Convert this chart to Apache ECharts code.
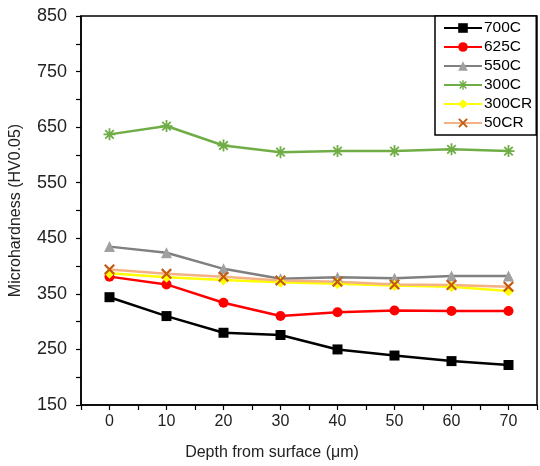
<!DOCTYPE html>
<html><head><meta charset="utf-8">
<script src="https://cdn.jsdelivr.net/npm/echarts@6/dist/echarts.min.js"></script>
<style>html,body{margin:0;padding:0;background:#fff}#c{width:540px;height:466px}</style>
</head><body><div id="c"></div>
<script>
const depths = [0, 10, 20, 30, 40, 50, 60, 70];
const s700C  = [344, 310, 280, 276, 250, 239, 229, 222];
const s625C  = [381, 367, 334, 310, 317, 320, 319, 319];
const s550C  = [435, 424, 395, 377, 380, 378, 382, 382];
const s300C  = [637, 652, 617, 605, 607, 607, 610, 607];
const s300CR = [387, 380, 375, 371, 368, 365, 363, 355];
const s50CR  = [394, 386, 381, 374, 372, 367, 366, 363];
const yTickLabels = [150, 250, 350, 450, 550, 650, 750, 850];

const asterisk = 'path://M-0.9,-6L0.9,-6L0.9,6L-0.9,6Z M-6,-0.9L6,-0.9L6,0.9L-6,0.9Z M-4.9,-3.6L-3.6,-4.9L4.9,3.6L3.6,4.9Z M3.6,-4.9L4.9,-3.6L-3.6,4.9L-4.9,3.6Z';
const cross = 'path://M-5,-3.6L-3.6,-5L5,3.6L3.6,5Z M3.6,-5L5,-3.6L-3.6,5L-5,3.6Z';

function pts(arr){ return arr.map((v,i)=>[depths[i], v]); }
function ser(name, data, color, symbol, size, symColor){
  return {name, type:'line', data: pts(data), symbol, symbolSize:size,
    lineStyle:{color, width:2.5}, itemStyle:{color: symColor||color},
    emphasis:{disabled:true}, z: 2};
}
const font = 'Liberation Sans, Arial, sans-serif';
const chart = echarts.init(document.getElementById('c'));
chart.setOption({
  animation:false,
  backgroundColor:'#fff',
  grid:{left:77, top:16, width:465, height:389, show:true, borderColor:'#000', borderWidth:1.5},
  legend:{
    orient:'vertical', left:435, top:16, itemWidth:38, itemHeight:12, itemGap:3,
    padding:[4,4,4,8], borderColor:'#000', borderWidth:1.5, backgroundColor:'#fff',
    textStyle:{fontFamily:font, fontSize:15.5, color:'#000', padding:[0,0,0,-3]},
    data:['700C','625C','550C','300C','300CR','50CR']
  },
  xAxis:{
    type:'value', min:-5, max:75, interval:5,
    name:'Depth from surface (\u03bcm)', nameLocation:'middle', nameGap:40,
    nameTextStyle:{fontFamily:font, fontSize:16, color:'#222', padding:[0,74,0,0]},
    axisLine:{onZero:false, lineStyle:{color:'#000', width:1.5}},
    axisTick:{length:5, lineStyle:{color:'#000', width:1.2}},
    axisLabel:{fontFamily:font, fontSize:16, color:'#222', margin:9,
      formatter:v=> depths.includes(v) ? String(v) : ''},
    splitLine:{show:false}
  },
  yAxis:{
    type:'value', min:150, max:850, interval:50,
    name:'Microhardness (HV0.05)', nameLocation:'middle', nameGap:57,
    nameTextStyle:{fontFamily:font, fontSize:16, color:'#222'},
    axisLine:{show:true, onZero:false, lineStyle:{color:'#000', width:1.5}},
    axisTick:{show:true, length:5, lineStyle:{color:'#000', width:1.2}},
    axisLabel:{fontFamily:font, fontSize:18, color:'#222', margin:14,
      formatter:v=> yTickLabels.includes(v) ? String(v) : ''},
    splitLine:{show:false}
  },
  series:[
    ser('700C', s700C, '#000000', 'rect', 10),
    ser('625C', s625C, '#ff0000', 'circle', 10),
    ser('550C', s550C, '#808080', 'triangle', 11, '#a0a0a0'),
    ser('300C', s300C, '#70ad47', asterisk, 12),
    ser('300CR', s300CR, '#ffff00', 'diamond', 11),
    ser('50CR', s50CR, '#f4b183', cross, 11, '#c55a11')
  ]
});
</script></body></html>
